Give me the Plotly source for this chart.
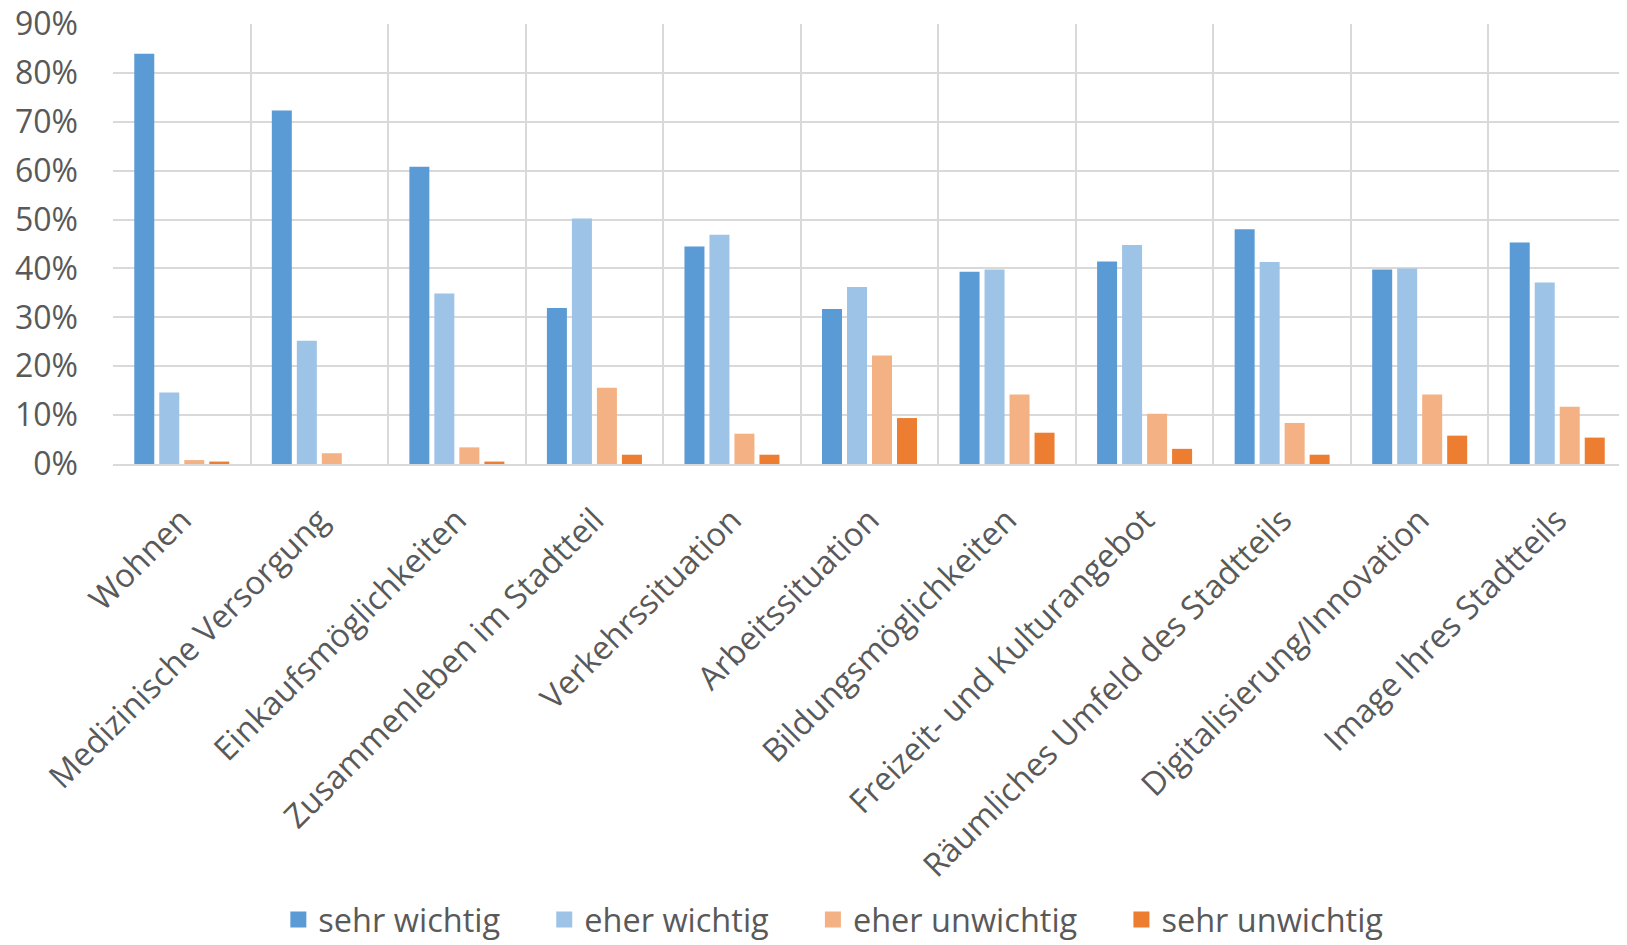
import plotly.graph_objects as go

categories = ["Wohnen", "Medizinische Versorgung", "Einkaufsmöglichkeiten",
              "Zusammenleben im Stadtteil", "Verkehrssituation", "Arbeitssituation",
              "Bildungsmöglichkeiten", "Freizeit- und Kulturangebot",
              "Räumliches Umfeld des Stadtteils", "Digitalisierung/Innovation",
              "Image Ihres Stadtteils"]

sehr_wichtig = [0.839, 0.723, 0.608, 0.319, 0.445, 0.317, 0.393, 0.414, 0.480, 0.398, 0.453]
eher_wichtig = [0.146, 0.252, 0.349, 0.502, 0.469, 0.362, 0.398, 0.448, 0.413, 0.400, 0.371]
eher_unwichtig = [0.008, 0.022, 0.034, 0.156, 0.062, 0.222, 0.142, 0.103, 0.084, 0.142, 0.117]
sehr_unwichtig = [0.005, 0.0, 0.005, 0.019, 0.019, 0.094, 0.064, 0.031, 0.019, 0.058, 0.054]

series = [
    ("sehr wichtig", sehr_wichtig, "#5B9BD5"),
    ("eher wichtig", eher_wichtig, "#9DC3E6"),
    ("eher unwichtig", eher_unwichtig, "#F4B183"),
    ("sehr unwichtig", sehr_unwichtig, "#ED7D31"),
]

PAD = "\u00a0" * 4 + "\u2009"

fig = go.Figure()
for name, vals, color in series:
    fig.add_trace(go.Bar(x=categories, y=vals, name=name, marker_color=color,
                         marker_line_width=0, showlegend=False, legendgroup=name))
# legend entries with larger square swatches
for name, vals, color in series:
    fig.add_trace(go.Scatter(x=[None], y=[None], mode="markers", name=name + PAD,
                             legendgroup=name,
                             marker=dict(symbol="square", size=19, color=color)))

font_family = "Open Sans"
text_color = "#595959"

fig.update_layout(
    width=1619, height=937,
    barmode="group", bargap=0.273, bargroupgap=0.2,
    plot_bgcolor="white", paper_bgcolor="white",
    margin=dict(l=105, r=1, t=16, b=481, autoexpand=False),
    font=dict(family=font_family, size=32.5, color=text_color),
    legend=dict(orientation="h", x=0.489, xanchor="center", y=-1.036, yanchor="middle",
                font=dict(size=32.5, color=text_color), itemwidth=30,
                itemsizing="trace", traceorder="normal"),
    showlegend=True,
)
fig.update_yaxes(range=[0, 0.9], dtick=0.1, tickformat=".0%",
                 showgrid=True, gridcolor="#D9D9D9", gridwidth=2,
                 zeroline=False, showline=False, ticks="",
                 ticklabelstandoff=34, automargin=False,
                 ticklabeloverflow="allow",
                 tickfont=dict(size=32, color=text_color))
fig.update_xaxes(tickangle=-45, tickson="boundaries", showgrid=True,
                 gridcolor="#D9D9D9", gridwidth=2,
                 showline=True, linecolor="#D9D9D9", linewidth=2,
                 mirror=False, ticks="", automargin=False,
                 ticklabelstandoff=22,
                 tickfont=dict(size=32.5, color=text_color))

fig.write_html("out.html")
